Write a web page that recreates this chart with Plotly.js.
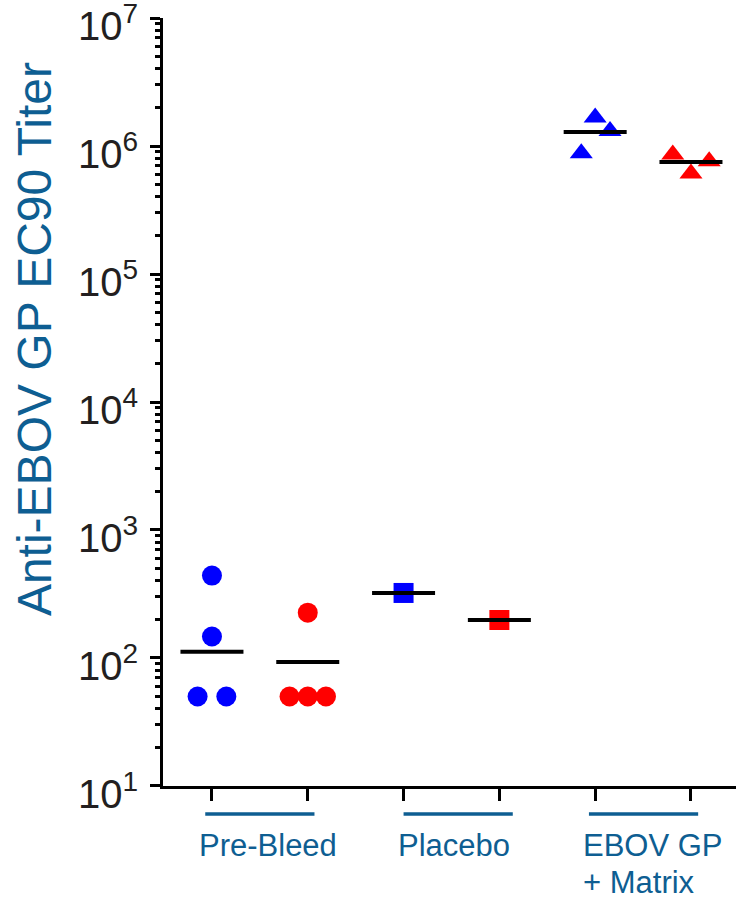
<!DOCTYPE html>
<html>
<head>
<meta charset="utf-8">
<script src="https://cdn.plot.ly/plotly-3.0.1.min.js"></script>
<style>
  html, body { margin: 0; padding: 0; background: #fff; }
  #chart { width: 736px; height: 898px; }
</style>
</head>
<body>
<div id="chart"></div>
<script>
// ---- data ----
const groups = ['Pre-Bleed', 'Placebo', 'EBOV GP<br>+ Matrix'];

const preBleedBlue = [440, 147, 50, 50];
const preBleedRed = [226, 50, 50, 50];
const placeboBlue = [322];
const placeboRed = [198];
const ebovBlue = [1.67e6, 1.31e6, 8.8e5];
const ebovRed = [8.6e5, 6.1e5, 7.6e5];

const meanBlue = [112, 322, 1.29e6];
const meanRed = [93, 198, 7.5e5];

// horizontal spread of overlapping points within a column (slot units)
const preBleedBlueJitter = [0, 0, -0.15, 0.15];
const preBleedRedJitter = [0, -0.19, 0, 0.19];
const placeboBlueJitter = [0];
const placeboRedJitter = [0];
const ebovBlueJitter = [0, 0.155, -0.145];
const ebovRedJitter = [-0.19, 0, 0.19];

const yTickVals = [1e1, 1e2, 1e3, 1e4, 1e5, 1e6, 1e7];
const yTickExp = ['1', '2', '3', '4', '5', '6', '7'];

// ---- styling ----
const BLUE = '#0000ff';
const RED = '#ff0000';
const LABEL = '#0e5e92';
const FONT = 'Arial, "Liberation Sans", Helvetica, sans-serif';
const underlineStart = [-0.07, 0, -0.065];   // group underline start, relative to first slot

function pts(vals, jitter, slot, color, symbol) {
  return {
    type: 'scatter', mode: 'markers',
    x: vals.map((v, i) => slot + jitter[i]),
    y: vals,
    marker: { color: color, size: 20, symbol: symbol, line: { width: 0 } },
    showlegend: false, hoverinfo: 'y', cliponaxis: false
  };
}

const traces = [
  pts(preBleedBlue, preBleedBlueJitter, 0, BLUE, 'circle'),
  pts(preBleedRed, preBleedRedJitter, 1, RED, 'circle'),
  pts(placeboBlue, placeboBlueJitter, 2, BLUE, 'square'),
  pts(placeboRed, placeboRedJitter, 3, RED, 'square'),
  pts(ebovBlue, ebovBlueJitter, 4, BLUE, 'triangle-up'),
  pts(ebovRed, ebovRedJitter, 5, RED, 'triangle-up')
];

// mean bars
const meanSlots = [], meanVals = [];
groups.forEach((g, i) => {
  meanSlots.push(2 * i, 2 * i + 1);
  meanVals.push(meanBlue[i], meanRed[i]);
});
traces.push({
  type: 'scatter', mode: 'markers',
  x: meanSlots, y: meanVals,
  marker: { symbol: 'line-ew', size: 45, color: '#000', line: { width: 4, color: '#000' } },
  showlegend: false, hoverinfo: 'y', cliponaxis: false
});

// minor ticks 2..9 per decade
const minorVals = [];
for (let e = 1; e < 7; e++) for (let d = 2; d <= 9; d++) minorVals.push(d * Math.pow(10, e));

// group underlines and labels
const shapes = [], annotations = [];
groups.forEach((g, i) => {
  const x0 = 2 * i + underlineStart[i];
  shapes.push({
    type: 'line', xref: 'x', yref: 'paper',
    x0: x0, x1: x0 + 1.14, y0: -0.0365, y1: -0.0365,
    line: { color: LABEL, width: 3.5 }
  });
  g.split('<br>').forEach((line, k) => {
    annotations.push({
      xref: 'x', yref: 'paper', x: x0, y: -0.078 - k * 0.047,
      xanchor: 'left', yanchor: 'middle', xshift: -8,
      text: line, showarrow: false,
      font: { family: FONT, size: 31, color: LABEL }
    });
  });
});

annotations.push({
  xref: 'paper', yref: 'paper', x: -0.225, y: 0.582,
  xanchor: 'center', yanchor: 'middle', textangle: -90,
  text: 'Anti-EBOV GP EC90 Titer', showarrow: false,
  font: { family: FONT, size: 48, color: LABEL }
});

const layout = {
  width: 736, height: 898,
  margin: { l: 163, r: 0, t: 18, b: 112 },
  paper_bgcolor: '#fff', plot_bgcolor: '#fff',
  font: { family: FONT },
  showlegend: false,
  xaxis: {
    range: [-0.511, 5.47],
    showline: true, linewidth: 3, linecolor: '#000',
    ticks: 'outside', ticklen: 12, tickwidth: 3, tickcolor: '#000',
    tickmode: 'array', tickvals: [0, 1, 2, 3, 4, 5],
    showticklabels: false, showgrid: false, zeroline: false
  },
  yaxis: {
    type: 'log', range: [0.9995, 7.0005],
    showline: true, linewidth: 3, linecolor: '#000',
    ticks: 'outside', ticklen: 10, tickwidth: 3, tickcolor: '#000',
    tickmode: 'array', tickvals: yTickVals,
    ticktext: yTickExp.map(e => '10<sup>' + e + '</sup>'),
    tickfont: { family: FONT, size: 40, color: '#231f20' },
    ticklabelstandoff: 4,
    ticklabelshift: 8,
    ticklabeloverflow: 'allow',
    minor: { tickmode: 'array', tickvals: minorVals, ticks: 'outside', ticklen: 5, tickwidth: 3, tickcolor: '#000', showgrid: false },
    showgrid: false, zeroline: false
  },
  shapes: shapes,
  annotations: annotations
};

Plotly.newPlot('chart', traces, layout, { displayModeBar: false, staticPlot: true });
</script>
</body>
</html>
